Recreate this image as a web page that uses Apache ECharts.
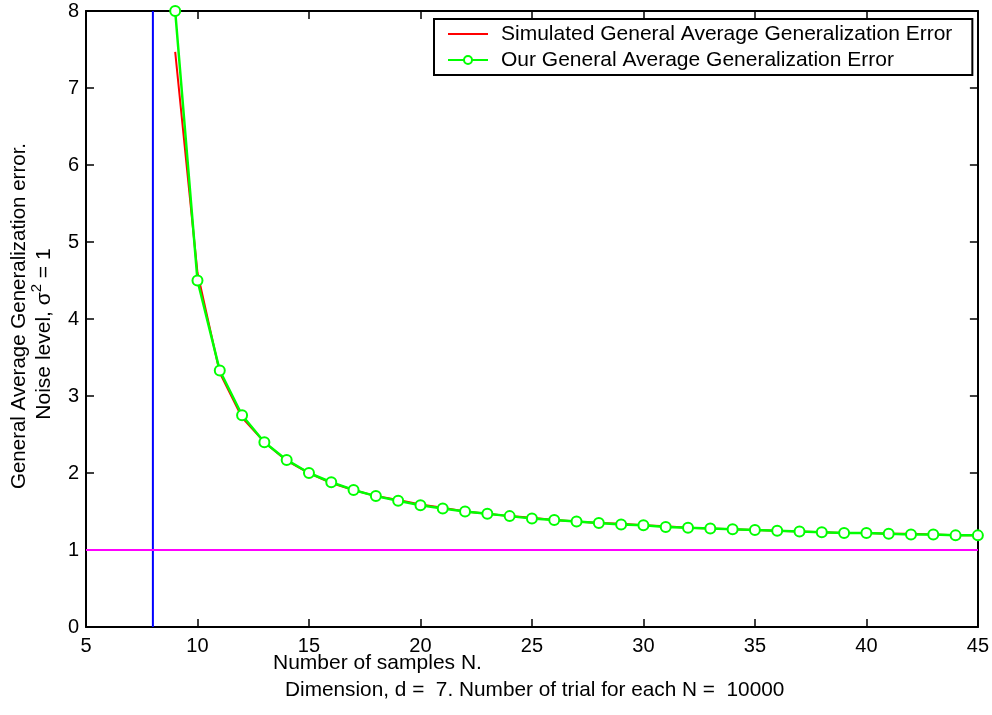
<!DOCTYPE html>
<html>
<head>
<meta charset="utf-8">
<script src="https://cdn.jsdelivr.net/npm/echarts@6/dist/echarts.min.js"></script>
<style>
  html, body { margin: 0; padding: 0; background: #fff; }
  #main { width: 992px; height: 715px; }
</style>
</head>
<body>
<div id="main"></div>
<script>
// sample sizes N
var samplesN = [9, 10, 11, 12, 13, 14, 15, 16, 17, 18, 19, 20, 21, 22, 23, 24, 25, 26, 27,
    28, 29, 30, 31, 32, 33, 34, 35, 36, 37, 38, 39, 40, 41, 42, 43, 44, 45];
// simulated error (red)
var simulated = [7.47, 4.6, 3.3, 2.72, 2.4, 2.16, 2.0, 1.87, 1.78, 1.7, 1.65, 1.59, 1.55, 1.5,
    1.47, 1.44, 1.42, 1.39, 1.37, 1.35, 1.34, 1.32, 1.31, 1.29, 1.28, 1.27, 1.26, 1.25, 1.24,
    1.23, 1.22, 1.22, 1.21, 1.21, 1.2, 1.19, 1.19];
// our error (green, with markers)
var ours = [8.0, 4.5, 3.33, 2.75, 2.4, 2.17, 2.0, 1.88, 1.78, 1.7, 1.64, 1.58, 1.54, 1.5,
    1.47, 1.44, 1.41, 1.39, 1.37, 1.35, 1.33, 1.32, 1.3, 1.29, 1.28, 1.27, 1.26, 1.25, 1.24,
    1.23, 1.22, 1.22, 1.21, 1.2, 1.2, 1.19, 1.19];
var dimLineX = 8;     // blue vertical line
var noiseLevel = 1;   // magenta horizontal line
var xRange = [5, 45];
var yRange = [0, 8];

var chart = echarts.init(document.getElementById('main'));
var font = '"Liberation Sans", Arial, sans-serif';

function pairs(xs, ys) {
    var out = [];
    for (var i = 0; i < xs.length; i++) {
        out.push([xs[i], ys[i]]);
    }
    return out;
}

var boxAxis = {
    type: 'value',
    axisLine: {show: true, onZero: false, lineStyle: {color: '#000', width: 2}},
    axisTick: {show: true, inside: true, length: 8, lineStyle: {color: '#000', width: 1.5}},
    splitLine: {show: false}
};

chart.setOption({
    animation: false,
    textStyle: {fontFamily: font},
    grid: {left: 86, right: 14, top: 11, bottom: 88},
    legend: {
        left: 434,
        top: 19,
        orient: 'vertical',
        backgroundColor: '#fff',
        borderColor: '#000',
        borderWidth: 2,
        padding: [4, 20, 4, 13],
        itemGap: 4,
        itemWidth: 40,
        itemHeight: 10,
        textStyle: {fontFamily: font, fontSize: 21, color: '#000', lineHeight: 22, padding: [0, 0, 0, 8]},
        data: [
            {name: 'Simulated General Average Generalization Error', itemStyle: {opacity: 0}},
            {name: 'Our General Average Generalization Error'}
        ]
    },
    xAxis: [
        Object.assign({}, boxAxis, {
            min: xRange[0], max: xRange[1], interval: 5, position: 'bottom',
            axisLabel: {color: '#000', fontSize: 20, fontFamily: font, margin: 9}
        }),
        Object.assign({}, boxAxis, {
            min: xRange[0], max: xRange[1], interval: 5, position: 'top',
            axisLabel: {show: false}
        })
    ],
    yAxis: [
        Object.assign({}, boxAxis, {
            min: yRange[0], max: yRange[1], interval: 1, position: 'left',
            axisLabel: {color: '#000', fontSize: 20, fontFamily: font, margin: 7}
        }),
        Object.assign({}, boxAxis, {
            min: yRange[0], max: yRange[1], interval: 1, position: 'right',
            axisLabel: {show: false}
        })
    ],
    graphic: [
        {
            type: 'text', x: 273, y: 663,
            style: {text: 'Number of samples N.', font: '21px ' + font, fill: '#000', verticalAlign: 'middle'}
        },
        {
            type: 'text', x: 285, y: 690,
            style: {text: 'Dimension, d =  7. Number of trial for each N =  10000', font: '20.8px ' + font, fill: '#000', verticalAlign: 'middle'}
        },
        {
            type: 'text', x: 19, y: 316, rotation: Math.PI / 2,
            style: {
                text: 'General Average Generalization error.',
                font: '20.5px ' + font, fill: '#000', align: 'center', verticalAlign: 'middle'
            }
        },
        {
            type: 'text', x: 44, y: 334, rotation: Math.PI / 2,
            style: {
                text: '{a|Noise level, σ}{s|2}{a| = 1}',
                align: 'center', verticalAlign: 'middle',
                rich: {
                    a: {font: '21px ' + font, fill: '#000', lineHeight: 25},
                    s: {font: '15px ' + font, fill: '#000', padding: [0, 0, 14, 0]}
                }
            }
        }
    ],
    series: [
        {
            name: 'Simulated General Average Generalization Error',
            type: 'line',
            data: pairs(samplesN, simulated),
            showSymbol: false,
            symbol: 'none',
            lineStyle: {color: '#ff0000', width: 2},
            itemStyle: {color: '#ff0000'},
            z: 3
        },
        {
            name: 'Our General Average Generalization Error',
            type: 'line',
            data: pairs(samplesN, ours),
            symbol: 'circle',
            symbolSize: 10,
            lineStyle: {color: '#00ff00', width: 2.5},
            itemStyle: {color: '#fff', borderColor: '#00ff00', borderWidth: 2},
            z: 4
        },
        {
            name: 'dim',
            type: 'line',
            data: [[dimLineX, yRange[0]], [dimLineX, yRange[1]]],
            symbol: 'none',
            lineStyle: {color: '#0000ff', width: 2},
            z: 2
        },
        {
            name: 'noise',
            type: 'line',
            data: [[xRange[0], noiseLevel], [xRange[1], noiseLevel]],
            symbol: 'none',
            lineStyle: {color: '#ff00ff', width: 2},
            z: 2
        }
    ]
});
</script>
</body>
</html>
